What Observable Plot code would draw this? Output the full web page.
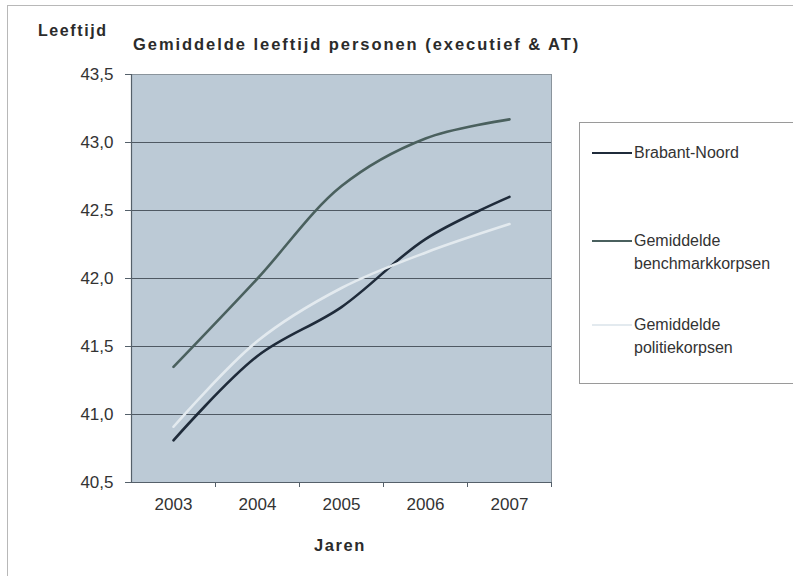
<!DOCTYPE html>
<html>
<head>
<meta charset="utf-8">
<script src="https://cdn.jsdelivr.net/npm/d3@7"></script>
<script src="https://cdn.jsdelivr.net/npm/@observablehq/plot@0.6"></script>
<style>
  html, body { margin: 0; padding: 0; background: #fff; }
  body { width: 793px; height: 576px; overflow: hidden; position: relative; font-family: "Liberation Sans", Arial, sans-serif; }
  #frame { position: absolute; left: 7px; top: 5px; width: 900px; height: 700px; border: 1px solid #b8b8b8; }
  #chart { position: absolute; left: 0; top: 0; }
  .lbl { position: absolute; font-weight: bold; color: #2b2b2b; white-space: nowrap; }
  #legend { position: absolute; left: 579px; top: 122px; width: 260px; height: 260px; border: 1px solid #9a9a9a; background: #fff; }
  .sw { position: absolute; left: 12px; width: 40px; height: 0; }
  .txt { position: absolute; left: 54px; font-size: 16px; color: #333; line-height: 23px; white-space: nowrap; }
</style>
</head>
<body>
<div id="frame"></div>
<div id="chart"></div>
<div class="lbl" id="ytitle" style="left:38px;top:22px;font-size:16px;letter-spacing:1.6px;">Leeftijd</div>
<div class="lbl" id="title" style="left:133px;top:35px;font-size:16.5px;letter-spacing:1.95px;">Gemiddelde leeftijd personen (executief &amp; AT)</div>
<div class="lbl" id="xtitle" style="left:314px;top:536px;font-size:16.5px;letter-spacing:1.6px;">Jaren</div>
<div id="legend"></div>
<script>
const years = [2003, 2004, 2005, 2006, 2007];
const seriesNames = ["Brabant-Noord", "Gemiddelde benchmarkkorpsen", "Gemiddelde politiekorpsen"];
const brabantNoord = [40.81, 41.43, 41.79, 42.29, 42.60];
const benchmark = [41.35, 42.00, 42.68, 43.03, 43.17];
const politie = [40.91, 41.54, 41.93, 42.19, 42.40];
const yTicks = [40.5, 41.0, 41.5, 42.0, 42.5, 43.0, 43.5];
const colors = ["#1f2b3a", "#4a605e", "#e3eaef"];
const legendLines = [["Brabant-Noord"], ["Gemiddelde", "benchmarkkorpsen"], ["Gemiddelde", "politiekorpsen"]];

const values = [brabantNoord, benchmark, politie];
const rows = [];
seriesNames.forEach((s, i) => years.forEach((y, j) => rows.push({series: s, year: y, value: values[i][j]})));

const fmt = d => d.toFixed(1).replace(".", ",");

const chart = Plot.plot({
  width: 793,
  height: 576,
  marginLeft: 131,
  marginRight: 242,
  marginTop: 74,
  marginBottom: 94,
  style: {fontFamily: "'Liberation Sans', Arial, sans-serif", fontSize: "17px", color: "#333", background: "transparent"},
  x: {domain: [2002.5, 2007.5], type: "linear"},
  y: {domain: [40.5, 43.5]},
  color: {domain: seriesNames, range: colors},
  marks: [
    Plot.frame({fill: "#bccad6", stroke: "#8a949c"}),
    Plot.gridY(yTicks.slice(1, -1), {stroke: "#4f5963", strokeOpacity: 1, strokeWidth: 1}),
    Plot.line(rows, {x: "year", y: "value", z: "series", stroke: "series", strokeWidth: 2.6, curve: "catmull-rom"}),
    Plot.ruleX([2002.5], {stroke: "#55606a", strokeWidth: 1.2}),
    Plot.ruleY([40.5], {stroke: "#55606a", strokeWidth: 1.2}),
    Plot.axisY({ticks: yTicks, tickFormat: fmt, tickSize: 6, tickPadding: 12, stroke: "#55606a", label: null, fill: "#333", fontSize: 17}),
    Plot.axisX({ticks: [2003.5, 2004.5, 2005.5, 2006.5, 2007.5], tickFormat: () => "", tickSize: 5, label: null, stroke: "#55606a"}),
    Plot.axisX({ticks: years, tickFormat: d => String(d), tickSize: 0, tickPadding: 15, label: null, fill: "#333", fontSize: 17})
  ]
});
document.getElementById("chart").appendChild(chart);

const legend = document.getElementById("legend");
const swY = [30, 118, 202];
legendLines.forEach((lines, i) => {
  const sw = document.createElement("div");
  sw.className = "sw";
  sw.style.top = (swY[i] - 1) + "px";
  sw.style.borderTop = "2.6px solid " + colors[i];
  legend.appendChild(sw);
  const t = document.createElement("div");
  t.className = "txt";
  t.style.top = (swY[i] - 12) + "px";
  t.innerHTML = lines.join("<br>");
  legend.appendChild(t);
});
</script>
</body>
</html>
